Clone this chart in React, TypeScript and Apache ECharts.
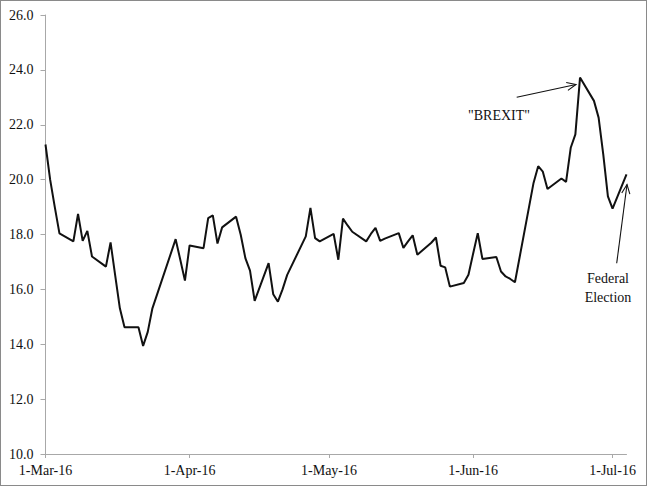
import { useEffect, useRef } from "react";
import * as echarts from "echarts";

const DATES = [
  "2016-03-01", "2016-03-02", "2016-03-03", "2016-03-04", "2016-03-07", "2016-03-08", "2016-03-09",
  "2016-03-10", "2016-03-11", "2016-03-14", "2016-03-15", "2016-03-16", "2016-03-17", "2016-03-18",
  "2016-03-21", "2016-03-22", "2016-03-23", "2016-03-24", "2016-03-29", "2016-03-30", "2016-03-31",
  "2016-04-01", "2016-04-04", "2016-04-05", "2016-04-06", "2016-04-07", "2016-04-08", "2016-04-11",
  "2016-04-12", "2016-04-13", "2016-04-14", "2016-04-15", "2016-04-18", "2016-04-19", "2016-04-20",
  "2016-04-21", "2016-04-22", "2016-04-26", "2016-04-27", "2016-04-28", "2016-04-29",
  "2016-05-02", "2016-05-03", "2016-05-04", "2016-05-05", "2016-05-06", "2016-05-09", "2016-05-10",
  "2016-05-11", "2016-05-12", "2016-05-13", "2016-05-16", "2016-05-17", "2016-05-18", "2016-05-19",
  "2016-05-20", "2016-05-23", "2016-05-24", "2016-05-25", "2016-05-26", "2016-05-27", "2016-05-30",
  "2016-05-31",
  "2016-06-01", "2016-06-02", "2016-06-03", "2016-06-06", "2016-06-07", "2016-06-08", "2016-06-09",
  "2016-06-10", "2016-06-14", "2016-06-15", "2016-06-16", "2016-06-17", "2016-06-20", "2016-06-21",
  "2016-06-22", "2016-06-23", "2016-06-24", "2016-06-27", "2016-06-28", "2016-06-29", "2016-06-30",
  "2016-07-01", "2016-07-04",
];

const VALUES = [
  21.28, 20.0, 19.0, 18.04, 17.75, 18.75, 17.77,
  18.13, 17.2, 16.83, 17.71, 16.5, 15.31, 14.62,
  14.62, 13.94, 14.45, 15.31, 17.83, 17.08, 16.32,
  17.6, 17.5, 18.6, 18.7, 17.67, 18.26, 18.65,
  17.99, 17.14, 16.68, 15.58, 16.96, 15.82, 15.55,
  16.0, 16.53, 17.93, 18.97, 17.87, 17.75,
  18.02, 17.08, 18.58, 18.33, 18.1, 17.75, 18.02,
  18.24, 17.77, 17.85, 18.05, 17.51, 17.75, 17.97,
  17.26, 17.7, 17.89, 16.86, 16.8, 16.1, 16.23,
  16.53,
  17.3, 18.05, 17.11, 17.18, 16.65, 16.47, 16.38,
  16.26, 19.88, 20.49, 20.29, 19.66, 20.04, 19.92,
  21.16, 21.65, 23.72, 22.87, 22.26, 20.92, 19.39,
  18.94, 20.19,
];

const TICK_DATES = ["2016-03-01", "2016-04-01", "2016-05-01", "2016-06-01", "2016-07-01"];
const TICK_LABELS = ["1-Mar-16", "1-Apr-16", "1-May-16", "1-Jun-16", "1-Jul-16"];

const FONT = '"Liberation Serif", "Times New Roman", serif';

const ts = (s: string) => {
  const [y, m, d] = s.split("-").map(Number);
  return Date.UTC(y, m - 1, d);
};

// open arrowhead: a line plus a little "V" at the tip
function arrow(x1: number, y1: number, x2: number, y2: number, head = 10, spread = 0.42) {
  const a = Math.atan2(y1 - y2, x1 - x2);
  const p1 = [x2 + head * Math.cos(a + spread), y2 + head * Math.sin(a + spread)];
  const p2 = [x2 + head * Math.cos(a - spread), y2 + head * Math.sin(a - spread)];
  const style = { stroke: "#111", lineWidth: 1.1, fill: null };
  return [
    { type: "line", shape: { x1, y1, x2, y2 }, style },
    { type: "polyline", shape: { points: [p1, [x2, y2], p2] }, style },
  ];
}

export default function App() {
  const chartRef = useRef<HTMLDivElement>(null);

  useEffect(() => {
    document.body.style.margin = "0";
    if (!chartRef.current) return;
    const chart = echarts.init(chartRef.current, null, { renderer: "svg" });
    const tickTs = TICK_DATES.map(ts);

    chart.setOption({
      animation: false,
      grid: { left: 45.5, right: 20.5, top: 15, bottom: 32 },
      xAxis: {
        type: "value",
        min: ts("2016-03-01"),
        max: ts("2016-07-04"),
        axisLine: { show: true, lineStyle: { color: "#a8a8a8", width: 1 } },
        axisTick: { show: true, length: 4, lineStyle: { color: "#a8a8a8" }, customValues: tickTs },
        axisLabel: {
          customValues: tickTs,
          formatter: (v: number) => {
            const i = tickTs.indexOf(v);
            return i >= 0 ? TICK_LABELS[i] : "";
          },
          color: "#111",
          fontFamily: FONT,
          fontSize: 14,
          margin: 9,
        },
        splitLine: { show: false },
      },
      yAxis: {
        type: "value",
        min: 10,
        max: 26,
        interval: 2,
        axisLine: { show: true, lineStyle: { color: "#a8a8a8", width: 1 } },
        axisTick: { show: true, length: 5, lineStyle: { color: "#a8a8a8" } },
        axisLabel: {
          formatter: (v: number) => v.toFixed(1),
          color: "#111",
          fontFamily: FONT,
          fontSize: 14,
          margin: 12,
        },
        splitLine: { show: false },
      },
      series: [
        {
          type: "line",
          data: DATES.map((d, i) => [ts(d), VALUES[i]]),
          showSymbol: false,
          symbol: "none",
          lineStyle: { color: "#111", width: 2 },
        },
      ],
      graphic: [
        ...arrow(516.7, 97.3, 576, 84.5),
        ...arrow(616.7, 263.3, 627, 184.5),
        {
          type: "text",
          x: 499,
          y: 115,
          style: {
            text: '"BREXIT"',
            fontFamily: FONT,
            fontSize: 14,
            fill: "#111",
            align: "center",
            verticalAlign: "middle",
          },
        },
        {
          type: "text",
          x: 608,
          y: 288,
          style: {
            text: "Federal\nElection",
            fontFamily: FONT,
            fontSize: 14,
            lineHeight: 19,
            fill: "#111",
            align: "center",
            verticalAlign: "middle",
          },
        },
      ],
    });

    return () => chart.dispose();
  }, []);

  return (
    <div style={{ position: "relative", width: 647, height: 486 }}>
      <div ref={chartRef} style={{ width: 647, height: 486 }} />
      <div
        style={{
          position: "absolute",
          inset: 0,
          border: "1px solid #8a8a8a",
          pointerEvents: "none",
        }}
      />
    </div>
  );
}
